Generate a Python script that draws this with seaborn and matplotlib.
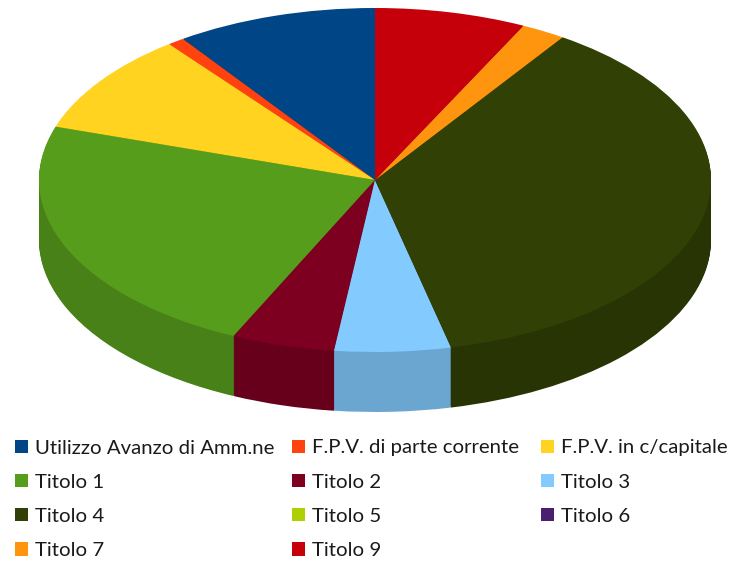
import matplotlib
matplotlib.use("Agg")
import matplotlib.pyplot as plt
import seaborn as sns

labels = ["Utilizzo Avanzo di Amm.ne", "F.P.V. di parte corrente", "F.P.V. in c/capitale",
          "Titolo 1", "Titolo 2", "Titolo 3", "Titolo 4", "Titolo 5", "Titolo 6",
          "Titolo 7", "Titolo 9"]
values = [9.69, 0.81, 9.48, 23.1, 4.97, 5.58, 36.94, 0, 0, 2.14, 7.28]
colors = ["#004586", "#ff420e", "#ffd320", "#579d1c", "#7e0021", "#83caff",
          "#314004", "#aecf00", "#4b1f6f", "#ff950e", "#c5000b"]

sns.set_theme(style="white")
plt.rcParams["font.family"] = ["Lato", "DejaVu Sans"]

palette = sns.color_palette(colors)
# side wall is the same colour, only darker
wall_palette = [tuple(c * 0.82 for c in col) for col in palette]

fig = plt.figure(figsize=(7.42, 5.62), dpi=100)
ax = fig.add_axes([0, 0, 1, 1])

# pixel geometry of the squashed disc
cx, cy = 375, 180
rx, ry = 336, 172
depth = 60

# stack of pies going up gives the thickness
for d in range(depth, 0, -1):
    ax.pie(values, colors=wall_palette, startangle=90, center=(0, -d / ry),
           wedgeprops={"linewidth": 0})

wedges, _ = ax.pie(values, colors=palette, startangle=90, center=(0, 0),
                   wedgeprops={"linewidth": 0})

ax.set_aspect("auto")
ax.set_xlim(-cx / rx, (742 - cx) / rx)
ax.set_ylim((cy - 562) / ry, cy / ry)

# one legend per column, the column gaps in the picture are not equal
columns = [(15, [0, 3, 6, 9]), (292, [1, 4, 7, 10]), (541, [2, 5, 8])]
for left, idx in columns:
    fig.legend([wedges[i] for i in idx], [labels[i] for i in idx],
               loc="upper left", bbox_to_anchor=(left / 742, 1 - 439.5 / 562),
               frameon=False, fontsize=14.7, borderpad=0, borderaxespad=0,
               handlelength=0.64, handleheight=0.64, handletextpad=0.34,
               labelspacing=0.84, labelcolor="#1a1a1a")

fig.savefig("out.png", dpi=100)
